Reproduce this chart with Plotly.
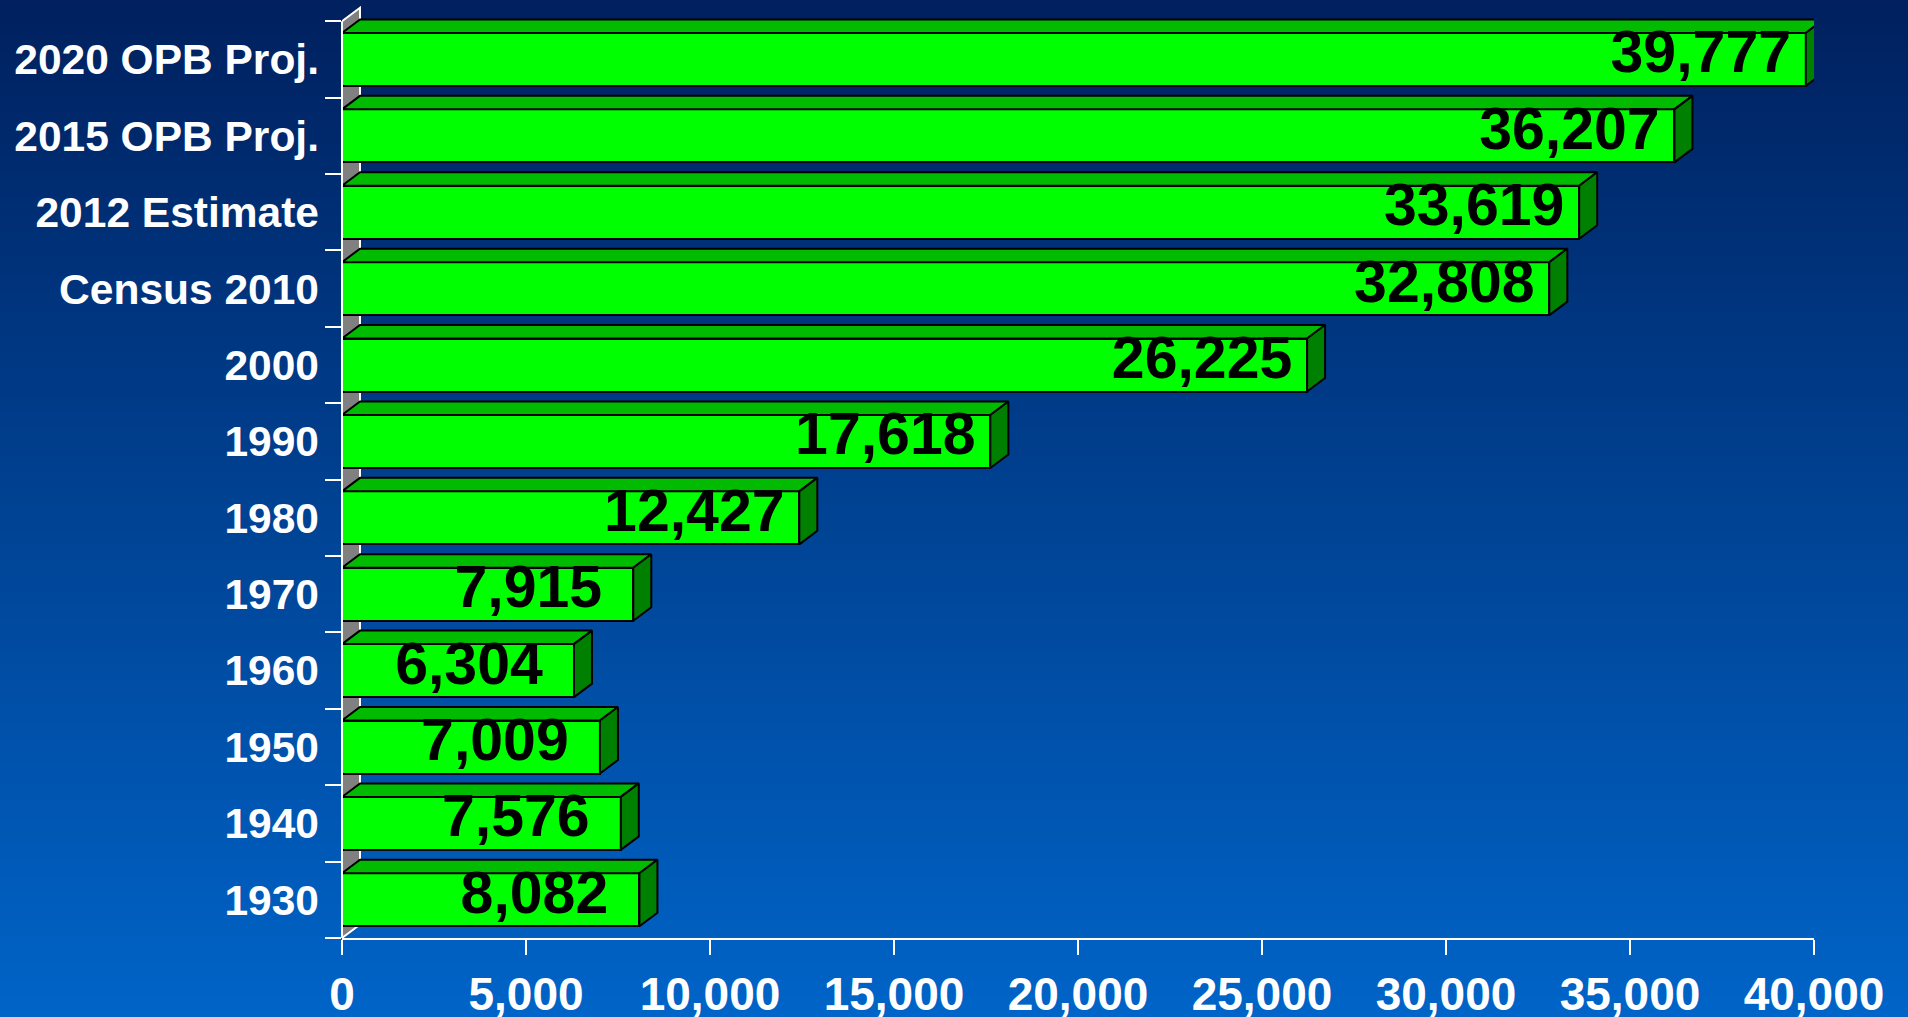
import plotly.graph_objects as go

# ---------------- data ----------------
categories = ["1930", "1940", "1950", "1960", "1970", "1980", "1990", "2000",
              "Census 2010", "2012 Estimate", "2015 OPB Proj.", "2020 OPB Proj."]
population = [8082, 7576, 7009, 6304, 7915, 12427, 17618, 26225,
              32808, 33619, 36207, 39777]
value_labels = ["8,082", "7,576", "7,009", "6,304", "7,915", "12,427", "17,618",
                "26,225", "32,808", "33,619", "36,207", "39,777"]
x_tick_values = [0, 5000, 10000, 15000, 20000, 25000, 30000, 35000, 40000]

# ---------------- geometry / style ----------------
W, H = 1908, 1017
M_L, M_R, M_T, M_B = 342, 94, 6, 79
X_MAX = 40000
Y_MIN, Y_MAX = -0.5, 11.7
plot_w = W - M_L - M_R
plot_h = H - M_T - M_B
x_per_px = X_MAX / plot_w
y_per_px = (Y_MAX - Y_MIN) / plot_h

DEPTH_X = 18 * x_per_px
DEPTH_Y = 13.5 * y_per_px
BAR_W = 0.694
HALF = BAR_W / 2
LABEL_SHIFT = 105 * x_per_px
LABEL_DROP = 5 * y_per_px

FONT = "Liberation Sans, Arial, sans-serif"
FRONT = "#00FF00"
TOP = "#00BB00"
SIDE = "#008000"

idx = list(range(len(categories)))

fig = go.Figure()

# front faces (bars)
fig.add_trace(go.Bar(
    y=idx, x=population, orientation="h", width=BAR_W,
    marker=dict(color=FRONT, line=dict(color="black", width=2)),
    hoverinfo="skip", showlegend=False,
))

# top faces and side faces (3D depth)
top_x, top_y, side_x, side_y = [], [], [], []
for i, v in zip(idx, population):
    yt = i + HALF
    yb = i - HALF
    top_x += [0, v, v + DEPTH_X, DEPTH_X, 0, None]
    top_y += [yt, yt, yt + DEPTH_Y, yt + DEPTH_Y, yt, None]
    side_x += [v, v + DEPTH_X, v + DEPTH_X, v, v, None]
    side_y += [yb, yb + DEPTH_Y, yt + DEPTH_Y, yt, yb, None]

fig.add_trace(go.Scatter(x=top_x, y=top_y, mode="lines", fill="toself",
                         fillcolor=TOP, line=dict(color="black", width=2),
                         hoverinfo="skip", showlegend=False))
fig.add_trace(go.Scatter(x=side_x, y=side_y, mode="lines", fill="toself",
                         fillcolor=SIDE, line=dict(color="black", width=2),
                         hoverinfo="skip", showlegend=False))

# value labels
fig.add_trace(go.Scatter(
    x=[v - LABEL_SHIFT for v in population],
    y=[i + DEPTH_Y / 2 - LABEL_DROP for i in idx],
    mode="text", text=value_labels, textposition="middle center",
    textfont=dict(family=FONT, size=59, color="black", weight="bold"),
    hoverinfo="skip", showlegend=False, cliponaxis=False,
))

# ---------------- background gradient ----------------
shapes = []
top_rgb = (0, 32, 94)
bot_rgb = (0, 100, 200)
STRIP = 4
for py in range(0, H, STRIP):
    t = (py + STRIP / 2) / H
    c = tuple(round(top_rgb[k] + (bot_rgb[k] - top_rgb[k]) * t) for k in range(3))
    y1 = (H - M_B - py) / plot_h
    y0 = (H - M_B - py - STRIP - 0.5) / plot_h
    shapes.append(dict(type="rect", xref="paper", yref="paper",
                       x0=-M_L / plot_w - 0.01, x1=1 + M_R / plot_w + 0.01,
                       y0=y0, y1=y1, fillcolor="rgb(%d,%d,%d)" % c,
                       line=dict(width=0), layer="below"))

# back wall (gray)
n = len(categories)
wall_path = "M 0 {a} L 0 {b} L {dx} {c} L {dx} {d} Z".format(
    a=-0.5, b=n - 0.5, c=n - 0.5 + DEPTH_Y, d=-0.5 + DEPTH_Y, dx=DEPTH_X)
shapes.append(dict(type="path", xref="x", yref="y", path=wall_path,
                   fillcolor="#808080", line=dict(color="white", width=2),
                   layer="below"))
# y axis line
shapes.append(dict(type="line", xref="paper", yref="y", x0=0, x1=0,
                   y0=-0.5, y1=n - 0.5, line=dict(color="white", width=2),
                   layer="above"))

fig.update_layout(
    width=W, height=H,
    margin=dict(l=M_L, r=M_R, t=M_T, b=M_B, pad=0, autoexpand=False),
    paper_bgcolor="#003a8a", plot_bgcolor="rgba(0,0,0,0)",
    shapes=shapes, showlegend=False, bargap=0,
    xaxis=dict(range=[0, X_MAX], tickvals=x_tick_values, tickformat=",d",
               ticks="outside", ticklen=15, tickwidth=2, tickcolor="white",
               showline=True, linecolor="white", linewidth=2,
               showgrid=False, zeroline=False, fixedrange=True, automargin=False,
               tickfont=dict(family=FONT, size=46, color="white", weight="bold"),
               ticklabelstandoff=0),
    yaxis=dict(range=[Y_MIN, Y_MAX], tickvals=idx, ticktext=categories,
               ticks="", showline=False, showgrid=False, zeroline=False,
               fixedrange=True, automargin=False,
               tickfont=dict(family=FONT, size=42.5, color="white", weight="bold"),
               ticklabelstandoff=22,
               minor=dict(tickmode="array",
                          tickvals=[k - 0.5 for k in range(n + 1)],
                          ticks="outside", ticklen=16, tickwidth=2,
                          tickcolor="white", showgrid=False)),
)

fig.write_html("out.html",
               config={"displayModeBar": False, "responsive": False},
               post_script="document.body.style.margin='0';document.body.style.overflow='hidden';")
